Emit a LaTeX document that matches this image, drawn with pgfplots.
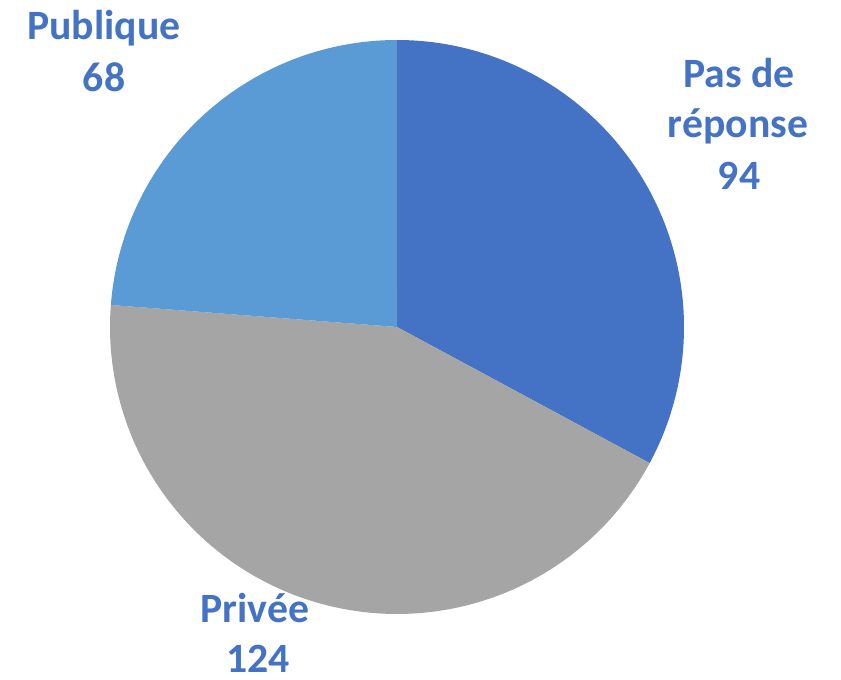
\documentclass[border=0pt]{standalone}
\usepackage{pgfplots}
\pgfplotsset{compat=1.18}
\usepackage{fontspec}
\setmainfont{Carlito}
\definecolor{cA}{HTML}{4472C4}
\definecolor{cB}{HTML}{A5A5A5}
\definecolor{cC}{HTML}{5B9BD5}
\definecolor{lab}{HTML}{4472C4}
\tikzset{lbl/.style={font=\fontsize{41.7bp}{52bp}\selectfont\bfseries, text=lab, inner sep=0pt, anchor=base}}
\begin{document}
\begin{tikzpicture}
% values: Pas de reponse 94, Privee 124, Publique 68 (total 286)
\pgfmathsetmacro{\vA}{94}
\pgfmathsetmacro{\vB}{124}
\pgfmathsetmacro{\vC}{68}
\pgfmathsetmacro{\tot}{\vA+\vB+\vC}
\pgfmathsetmacro{\aZero}{90}
\pgfmathsetmacro{\aOne}{90-\vA/\tot*360}
\pgfmathsetmacro{\aTwo}{\aOne-\vB/\tot*360}
\pgfmathsetmacro{\aThree}{\aTwo-\vC/\tot*360}
\begin{axis}[
  width=841bp, height=680bp, scale only axis,
  xmin=0, xmax=841, ymin=0, ymax=680,
  hide axis, clip=false,
]
\path (axis cs:0,0) rectangle (axis cs:841,680);
\addplot[fill=cA, draw=none, domain=\aOne:\aZero, samples=150]
  ({397+287*cos(x)}, {353+287*sin(x)}) -- (axis cs:397,353) -- cycle;
\addplot[fill=cB, draw=none, domain=\aTwo:\aOne, samples=150]
  ({397+287*cos(x)}, {353+287*sin(x)}) -- (axis cs:397,353) -- cycle;
\addplot[fill=cC, draw=none, domain=\aThree:\aTwo, samples=150]
  ({397+287*cos(x)}, {353+287*sin(x)}) -- (axis cs:397,353) -- cycle;
\node[lbl] at (axis cs:104,640) {Publique};
\node[lbl] at (axis cs:104,588) {68};
\node[lbl] at (axis cs:739,592) {Pas de};
\node[lbl] at (axis cs:738,542) {réponse};
\node[lbl] at (axis cs:739,490) {94};
\node[lbl] at (axis cs:255,57) {Privée};
\node[lbl] at (axis cs:258,7) {124};
\end{axis}
\end{tikzpicture}
\end{document}
